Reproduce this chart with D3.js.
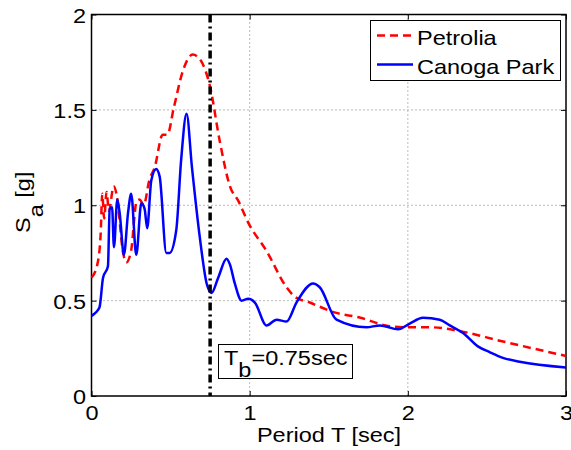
<!DOCTYPE html>
<html><head><meta charset="utf-8">
<script src="https://cdn.jsdelivr.net/npm/d3@7"></script>
<style>body{margin:0;background:#fff}svg{display:block}text{font-family:"Liberation Sans",Arial,sans-serif}</style>
</head><body>
<svg id="c" width="571" height="450"></svg>
<script>
const petroliaT = [0,0.037,0.058,0.068,0.08,0.095,0.11,0.14,0.16,0.2,0.22,0.25,0.285,0.305,0.33,0.365,0.4,0.45,0.48,0.52,0.58,0.64,0.69,0.75,0.81,0.875,0.93,0.99,1.107,1.233,1.286,1.38,1.53,1.70,1.86,1.99,2.15,2.33,2.58,3.0];
const petroliaSa = [0.62,0.69,0.85,1.06,0.93,1.07,0.97,1.10,1.05,0.75,0.70,0.76,1.02,1.03,1.00,1.13,1.20,1.37,1.37,1.51,1.71,1.79,1.76,1.62,1.34,1.10,1.02,0.91,0.76,0.57,0.52,0.49,0.44,0.41,0.37,0.36,0.36,0.34,0.29,0.21];
const canogaT = [0,0.016,0.04,0.052,0.073,0.104,0.115,0.13,0.142,0.163,0.178,0.205,0.231,0.251,0.283,0.315,0.336,0.352,0.378,0.409,0.431,0.473,0.494,0.536,0.567,0.601,0.635,0.685,0.728,0.759,0.801,0.854,0.875,0.906,0.949,0.991,1.033,1.107,1.170,1.233,1.296,1.401,1.443,1.549,1.738,1.823,1.938,2.012,2.096,2.202,2.265,2.349,2.443,2.517,2.601,2.707,3.0];
const canogaSa = [0.42,0.43,0.45,0.47,0.62,0.68,0.98,0.99,0.78,1.03,0.96,0.74,0.96,1.06,0.74,1.01,0.98,0.88,1.13,1.19,1.15,0.75,0.75,0.87,1.24,1.48,1.20,0.83,0.59,0.54,0.62,0.72,0.69,0.59,0.50,0.51,0.49,0.37,0.40,0.39,0.49,0.59,0.57,0.40,0.36,0.37,0.35,0.38,0.41,0.40,0.37,0.33,0.26,0.23,0.20,0.18,0.15];
const xTicks = [0,1,2,3];
const yTicks = [0,0.5,1,1.5,2];
const yTickLabels = ["0","0.5","1","1.5","2"];
const Tb = 0.75;
const seriesNames = ["Petrolia","Canoga Park"];
const seriesColors = ["#ff0000","#0000ff"];

const FS = 21, SX = 1.12;
const svg = d3.select("#c");
const L=91.5, R=566, T=14.5, B=396;
const x = d3.scaleLinear().domain([0,3]).range([L,R]);
const y = d3.scaleLinear().domain([0,2]).range([B,T]);

// grid
const g = svg.append("g");
g.selectAll(".gx").data(xTicks.filter(d=>d>0&&d<3)).enter().append("line")
 .attr("x1",d=>x(d)).attr("x2",d=>x(d)).attr("y1",T).attr("y2",B)
 .attr("stroke","#777").attr("stroke-width",1).attr("stroke-dasharray","1,3");
g.selectAll(".gy").data(yTicks.filter(d=>d>0&&d<2)).enter().append("line")
 .attr("y1",d=>y(d)).attr("y2",d=>y(d)).attr("x1",L).attr("x2",R)
 .attr("stroke","#777").attr("stroke-width",1).attr("stroke-dasharray","1,3");

// axes
const xa = svg.append("g").attr("transform",`translate(0,${B})`)
 .call(d3.axisBottom(x).tickValues(xTicks).tickSize(-5).tickPadding(0).tickFormat(d3.format("d")));
const ya = svg.append("g").attr("transform",`translate(${L},0)`)
 .call(d3.axisLeft(y).tickValues(yTicks).tickSize(-5).tickPadding(5.5).tickFormat((d,i)=>yTickLabels[i]));
svg.append("g").attr("transform",`translate(0,${T})`)
 .call(d3.axisTop(x).tickValues(xTicks).tickSize(-5).tickFormat(""));
svg.append("g").attr("transform",`translate(${R},0)`)
 .call(d3.axisRight(y).tickValues(yTicks).tickSize(-5).tickFormat(""));
svg.selectAll(".domain").remove();
svg.selectAll(".tick line").attr("stroke","#000").attr("stroke-width",1);
svg.selectAll(".tick text").attr("font-size",FS).attr("fill","#000").attr("font-family","Liberation Sans, Arial, sans-serif");
xa.selectAll(".tick text").attr("y",0).attr("dy",null).attr("transform",`translate(0,24) scale(${SX},1)`);
ya.selectAll(".tick text").attr("dy","0.36em").attr("transform",`scale(${SX},1)`).attr("x",-5.5/SX);
svg.append("rect").attr("x",L).attr("y",T).attr("width",R-L).attr("height",B-T)
 .attr("fill","none").attr("stroke","#000").attr("stroke-width",1.5);

// lines
const line = d3.line().x(d=>x(d[0])).y(d=>y(d[1])).curve(d3.curveMonotoneX);
const pData = petroliaT.map((t,i)=>[t,petroliaSa[i]]);
const cData = canogaT.map((t,i)=>[t,canogaSa[i]]);
svg.append("path").datum(pData).attr("d",line).attr("fill","none")
 .attr("stroke",seriesColors[0]).attr("stroke-width",2.5).attr("stroke-dasharray","8,5");
svg.append("path").datum(cData).attr("d",line).attr("fill","none")
 .attr("stroke",seriesColors[1]).attr("stroke-width",2.5);

// Tb line
svg.append("line").attr("x1",x(Tb)).attr("x2",x(Tb)).attr("y1",T).attr("y2",B)
 .attr("stroke","#000").attr("stroke-width",3.5).attr("stroke-dasharray","8,4,2,4");

// Tb annotation box
const bx = svg.append("g");
bx.append("rect").attr("x",218.5).attr("y",344.5).attr("width",134).attr("height",34)
 .attr("fill","#fff").attr("stroke","#000").attr("stroke-width",1);
const tt = bx.append("text").attr("transform",`translate(224,365) scale(${SX},1)`)
 .attr("font-size",FS).attr("fill","#000");
tt.append("tspan").text("T");
tt.append("tspan").attr("dy",12).text("b");
tt.append("tspan").attr("dy",-12).text("=0.75sec");

// legend
const lg = svg.append("g");
lg.append("rect").attr("x",370.5).attr("y",20.5).attr("width",190).attr("height",60)
 .attr("fill","#fff").attr("stroke","#000").attr("stroke-width",1);
seriesNames.forEach((n,i)=>{
  const yy = 35.5 + i*29;
  lg.append("line").attr("x1",377).attr("x2",413).attr("y1",yy).attr("y2",yy)
    .attr("stroke",seriesColors[i]).attr("stroke-width",2.5)
    .attr("stroke-dasharray", i===0?"8,5":null);
  lg.append("text").attr("transform",`translate(417,${yy+9}) scale(${SX},1)`)
    .attr("font-size",FS).attr("fill","#000").text(n);
});

// axis labels
svg.append("text").attr("transform",`translate(329,442) scale(${SX},1)`).attr("text-anchor","middle")
 .attr("font-size",FS).attr("fill","#000").text("Period T [sec]");
const yl = svg.append("text").attr("transform",`translate(30,233) rotate(-90) scale(${SX},1)`)
 .attr("text-anchor","start").attr("font-size",FS).attr("fill","#000");
yl.append("tspan").text("S");
yl.append("tspan").attr("dy",13).text("a");
yl.append("tspan").attr("dy",-13).text(" [g]");
</script>
</body></html>
